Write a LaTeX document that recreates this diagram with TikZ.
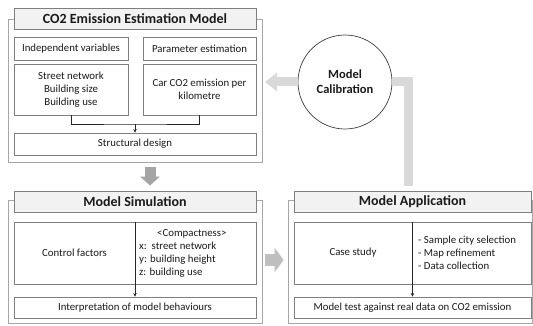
\documentclass[tikz,border=0pt]{standalone}
\usepackage{fontspec}
\setmainfont{Carlito}
\usetikzlibrary{arrows.meta,calc}
\definecolor{framegray}{HTML}{A6A6A6}
\definecolor{boxgray}{HTML}{7F7F7F}
\definecolor{titlefill}{HTML}{F2F2F2}
\definecolor{downgray}{HTML}{A5A5A5}
\definecolor{rightgray}{HTML}{BFBFBF}
\definecolor{calgray}{HTML}{D9D9D9}
\definecolor{txtcol}{HTML}{1A1A1A}
\begin{document}
\begin{tikzpicture}[x=1pt,y=-1pt,
  panel/.style={draw=framegray, line width=0.8pt, inner sep=0pt},
  titlebox/.style={draw=boxgray, fill=titlefill, line width=0.8pt, inner sep=0pt,
    minimum width=242pt, minimum height=21pt, text=txtcol,
    font=\fontsize{14}{16}\selectfont\bfseries},
  ibox/.style={draw=boxgray, fill=white, line width=0.8pt, inner sep=0pt, align=center,
    text=txtcol, font=\fontsize{10.8}{13}\selectfont},
  plain/.style={inner sep=0pt, text=txtcol, font=\fontsize{10.8}{13}\selectfont},
  conn/.style={draw=black!85, line width=0.6pt},
  tipped/.style={conn, -{Stealth[length=3.5pt,width=3.5pt]}},
  blockdown/.style={draw=downgray, line width=11pt, -{Triangle[length=9pt,width=19pt]}},
  blockright/.style={draw=rightgray, line width=12pt, -{Triangle[length=9pt,width=24pt]}},
  calband/.style={draw=calgray, line width=9pt, line join=miter},
  caltipped/.style={calband, -{Triangle[length=12pt,width=18pt]}},
  calcircle/.style={circle, draw=black!75, fill=white, line width=0.7pt, minimum size=94pt,
    inner sep=0pt, align=center, text=txtcol, font=\fontsize{12.5}{15}\selectfont\bfseries}
]
\useasboundingbox (0,0) rectangle (533,326);

% ---------- CO2 Emission Estimation Model ----------
\node[panel, minimum width=254pt, minimum height=143pt] (co2) at (135,90.5) {};
\node[titlebox] (co2title) at (135,19) {CO2 Emission Estimation Model};
\node[ibox, minimum width=114pt, minimum height=23pt] (indep) at (71,48.5) {Independent variables};
\node[ibox, minimum width=113pt, minimum height=23pt] (param) at (199.5,48.5) {Parameter estimation};
\node[ibox, minimum width=114pt, minimum height=51pt] (street) at (71,89.5) {Street network\\Building size\\Building use};
\node[ibox, minimum width=113pt, minimum height=51pt] (car) at (199.5,89.5) {Car CO2 emission per\\kilometre};
\node[ibox, minimum width=242pt, minimum height=22pt] (struct) at (135,144) {Structural design};
\coordinate (merge) at (135,124);
\draw[conn] (street.south) |- (merge) -| (car.south);
\draw[tipped] (merge) -- (struct.north);

% ---------- Model Simulation ----------
\node[panel, minimum width=254pt, minimum height=123pt] (sim) at (135,261.5) {};
\node[titlebox] (simtitle) at (135,201.5) {Model Simulation};
\node[ibox, minimum width=242pt, minimum height=62pt] (ctrl) at (135,253) {};
\node[ibox, minimum width=242pt, minimum height=21pt] (interp) at (135,307.5) {Interpretation of model behaviours};
\draw[tipped] (ctrl.north) -- (interp.north);
\node[plain] (ctrltext) at (74.5,253) {Control factors};
\node[plain, anchor=west, align=left] (compact) at (139,253)
  {\hspace*{18pt}<Compactness>\\x:\ \ street network\\y: building height\\z: building use};

% ---------- Model Application ----------
\node[panel, minimum width=244.5pt, minimum height=123pt] (app) at (410.25,261.5) {};
\node[titlebox, minimum width=237pt] (apptitle) at (412.5,201.5) {Model Application};
\node[ibox, minimum width=237pt, minimum height=62pt] (case) at (412.5,253) {};
\node[ibox, minimum width=237pt, minimum height=21pt] (test) at (412.5,307.5) {Model test against real data on CO2 emission};
\draw[tipped] (case.north) -- (test.north);
\node[plain] (casetext) at (353,253) {Case study};
\node[plain, anchor=west, align=left] (applist) at (418,253)
  {- Sample city selection\\- Map refinement\\- Data collection};

% ---------- block arrows ----------
\draw[blockdown] ($(co2.south)+(15,5)$) -- ($(simtitle.north)+(15,-5)$);
\draw[blockright] ($(sim.east)+(3,-1.5)$) -- ($(app.west)+(-4,-1.5)$);

% ---------- Model Calibration ----------
\node[calcircle] (calib) at (345,82) {Model\\Calibration};
\coordinate (calx) at (408.5,82);
\coordinate (caltip) at (265,82);
\draw[calband] ($(apptitle.north -| calx)+(0,-5)$) |- (calib.east);
\draw[caltipped] (calib.west) -- (caltip);
\end{tikzpicture}
\end{document}
